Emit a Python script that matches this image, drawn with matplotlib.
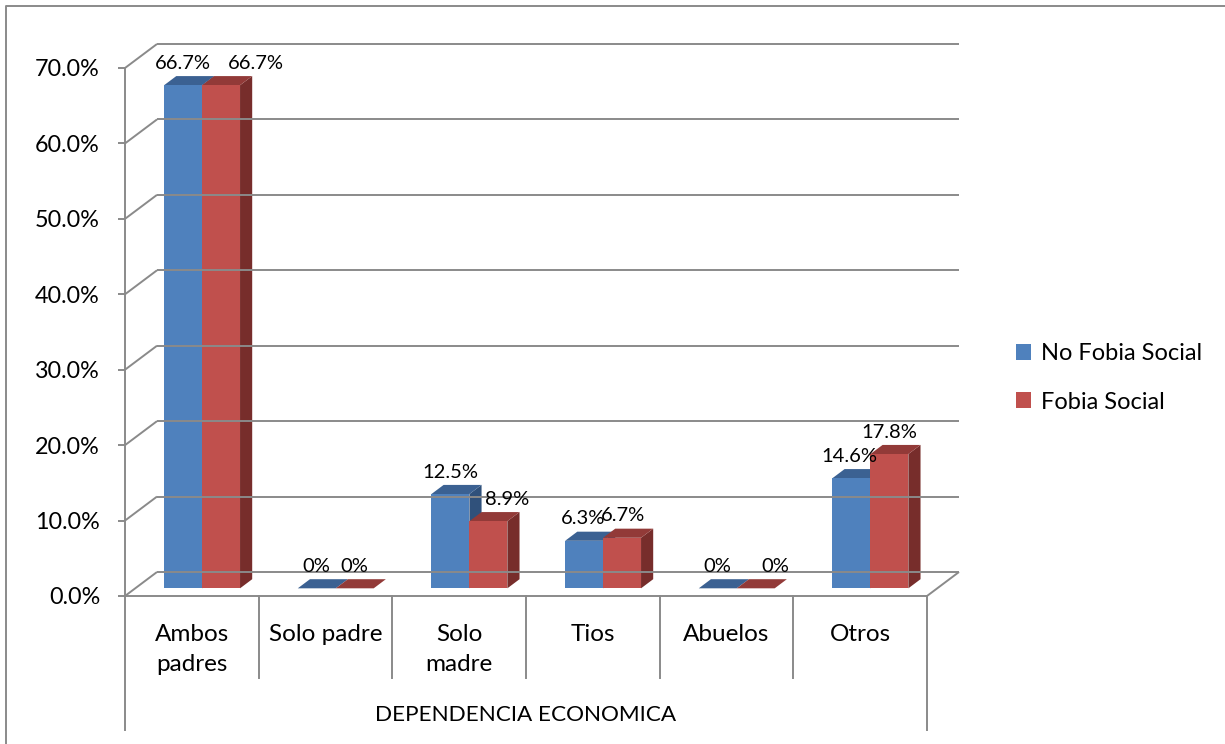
import numpy as np
import matplotlib
matplotlib.use("Agg")
import matplotlib.pyplot as plt
from matplotlib.patches import Polygon, Patch
from matplotlib.lines import Line2D

# ---- data ----
categories = ["Ambos\npadres", "Solo padre", "Solo\nmadre", "Tios", "Abuelos", "Otros"]
no_fobia = [66.7, 0.0, 12.5, 6.3, 0.0, 14.6]
fobia = [66.7, 0.0, 8.9, 6.7, 0.0, 17.8]
series_names = ["No Fobia Social", "Fobia Social"]
y_ticks = [0, 10, 20, 30, 40, 50, 60, 70]
axis_title = "DEPENDENCIA ECONOMICA"

# ---- style ----
plt.rcParams["font.family"] = ["Lato", "DejaVu Sans"]
W, H, DPI = 1225, 744, 100
GRID = "#8a8a8a"
LW = 1.4
BLUE = ("#4f81bd", "#3b6192", "#30517b")   # front, top, side
RED = ("#c0504d", "#923a38", "#772d2b")
DEPTH = np.array([32.0, 24.0])             # pixel offset of the back wall
BAR_D0, BAR_D1 = 0.32, 0.70                # bar depth span (fraction of floor)
BAR_W = 0.284                              # bar width in category units
TICK_FS, LABEL_FS, CAT_FS, LEG_FS, TITLE_FS = 16.8, 14.5, 17.5, 17, 16.2
# horizontal nudges of the value labels (pixels)
blue_nudge = [0, 0, 0, -1, 0, -2]
red_nudge = [35, 0, 19, 1, 20, 0]

fig = plt.figure(figsize=(W / DPI, H / DPI), dpi=DPI)
fig.patch.set_facecolor("white")

# front plane of the plot: x in categories, y in percent
x0, x1, yb, yt = 125, 927, 596, 68
ax = fig.add_axes([x0 / W, 1 - yb / H, (x1 - x0) / W, (yb - yt) / H])
ax.set_xlim(0, len(categories))
ax.set_ylim(0, 70)
ax.patch.set_visible(False)
for s in ax.spines.values():
    s.set_visible(False)


def proj(x, y, d):
    """Data point pushed back by depth fraction d, returned in data coords."""
    p = ax.transData.transform((x, y)) + d * DEPTH
    return ax.transData.inverted().transform(p)


def seg(p, q, **kw):
    ax.add_line(Line2D([p[0], q[0]], [p[1], q[1]], color=GRID, lw=LW,
                       clip_on=False, solid_capstyle="butt", **kw))


# back wall gridlines and side wall diagonals
n = len(categories)
for v in y_ticks:
    seg(proj(0, v, 1), proj(n, v, 1))
    seg(proj(0, v, 0), proj(0, v, 1))
# floor front edge and right edge
seg(proj(0, 0, 0), proj(n, 0, 0))
seg(proj(n, 0, 0), proj(n, 0, 1))

# axis line and category separators below the floor
xa = ax.get_xaxis_transform()
ax.add_line(Line2D([0, 0], [1, -0.254], transform=xa, color=GRID, lw=LW, clip_on=False))
for i in range(1, n):
    ax.add_line(Line2D([i, i], [0, -0.155], transform=xa, color=GRID, lw=LW, clip_on=False))
ax.add_line(Line2D([n, n], [0, -0.254], transform=xa, color=GRID, lw=LW, clip_on=False))


def bar3d(xl, xr, v, cols):
    front, top, side = cols
    a = proj(xl, 0, BAR_D0); b = proj(xr, 0, BAR_D0)
    c = proj(xr, v, BAR_D0); d = proj(xl, v, BAR_D0)
    b2 = proj(xr, 0, BAR_D1); c2 = proj(xr, v, BAR_D1); d2 = proj(xl, v, BAR_D1)
    ax.add_patch(Polygon([b, b2, c2, c], closed=True, fc=side, ec="none", clip_on=False))
    ax.add_patch(Polygon([d, c, c2, d2], closed=True, fc=top, ec="none", clip_on=False))
    ax.add_patch(Polygon([a, b, c, d], closed=True, fc=front, ec="none", clip_on=False))


def fmt(v):
    return "0%" if v == 0 else f"{v:.1f}%"


off = BAR_D0 * DEPTH
for i in range(n):
    c = i + 0.5
    bar3d(c - BAR_W, c, no_fobia[i], BLUE)
    bar3d(c, c + BAR_W, fobia[i], RED)
    for xc, v, nudge in ((c - BAR_W / 2, no_fobia[i], blue_nudge[i]),
                         (c + BAR_W / 2, fobia[i], red_nudge[i])):
        ax.annotate(fmt(v), (xc, v), xytext=(off[0] + nudge, off[1] + 22),
                    textcoords="offset pixels", ha="center", va="center",
                    fontsize=LABEL_FS, color="black", annotation_clip=False)

# y ticks
ax.set_yticks(y_ticks)
ax.set_yticklabels([f"{t:.1f}%" for t in y_ticks], fontsize=TICK_FS)
ax.tick_params(axis="y", length=5, width=LW, color=GRID, pad=13)

# category labels
ax.set_xticks([i + 0.5 for i in range(n)])
ax.set_xticklabels(categories, fontsize=CAT_FS, linespacing=1.55)
ax.tick_params(axis="x", length=0, pad=20)

ax.text(n / 2, -0.225, axis_title, transform=xa, ha="center", va="center",
        fontsize=TITLE_FS)

# legend
handles = [Patch(facecolor=BLUE[0], edgecolor="none"), Patch(facecolor=RED[0], edgecolor="none")]
fig.legend(handles, series_names, loc="center left",
           bbox_to_anchor=(1016 / W, 1 - 378 / H), frameon=False, fontsize=LEG_FS,
           handlelength=0.65, handleheight=0.65, handletextpad=0.4, labelspacing=1.15,
           borderaxespad=0, borderpad=0)

# chart frame (top and left edges)
fig.add_artist(Line2D([6 / W, 6 / W, 1], [0, 1 - 6 / H, 1 - 6 / H],
                      transform=fig.transFigure, color=GRID, lw=LW))

fig.savefig("out.png", dpi=DPI, facecolor="white")
